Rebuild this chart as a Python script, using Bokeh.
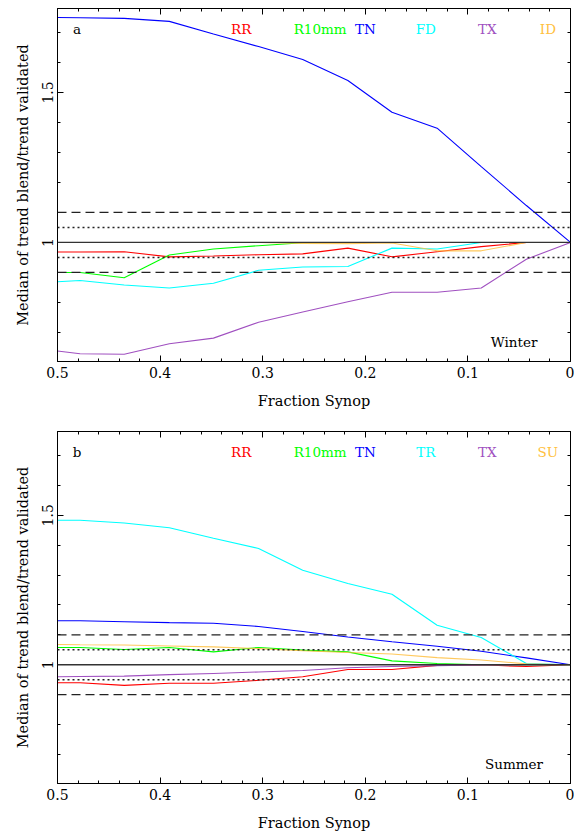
from bokeh.plotting import figure
from bokeh.layouts import column
from bokeh.models import (Range1d, FixedTicker, LinearAxis, Span, ColumnDataSource,
                          CustomLabelingPolicy)
from bokeh.core.properties import value
from bokeh.embed import file_html
from bokeh.resources import INLINE

# ---------------- data ----------------
frac_synop = [0.5, 0.478, 0.435, 0.391, 0.348, 0.304, 0.261, 0.217, 0.174, 0.130, 0.087, 0.043, 0.0]

winter_names = ["RR", "R10mm", "TN", "FD", "TX", "ID"]
winter_rr    = [0.968, 0.968, 0.969, 0.952, 0.955, 0.959, 0.962, 0.981, 0.952, 0.969, 0.986, 1.0, 1.0]
winter_r10mm = [0.900, 0.900, 0.882, 0.958, 0.978, 0.989, 0.999, 1.0, 1.0, 1.0, 1.0, 1.0, 1.0]
winter_tn    = [1.750, 1.749, 1.747, 1.737, 1.695, 1.653, 1.610, 1.540, 1.434, 1.381, 1.253, 1.123, 1.0]
winter_fd    = [0.869, 0.873, 0.858, 0.848, 0.864, 0.907, 0.918, 0.920, 0.981, 0.978, 1.0, 1.0, 1.0]
winter_tx    = [0.638, 0.629, 0.627, 0.662, 0.681, 0.734, 0.768, 0.802, 0.834, 0.834, 0.848, 0.944, 1.0]
winter_id    = [1.0, 1.0, 1.0, 1.0, 1.0, 1.0, 0.997, 0.996, 0.998, 0.972, 0.972, 1.0, 1.0]

summer_names = ["RR", "R10mm", "TN", "TR", "TX", "SU"]
summer_rr    = [0.940, 0.940, 0.931, 0.938, 0.938, 0.948, 0.960, 0.984, 0.984, 0.998, 1.0, 0.994, 1.0]
summer_r10mm = [1.058, 1.058, 1.051, 1.058, 1.043, 1.058, 1.049, 1.043, 1.013, 1.004, 1.0, 1.0, 1.0]
summer_tn    = [1.147, 1.147, 1.144, 1.141, 1.139, 1.128, 1.111, 1.093, 1.077, 1.062, 1.045, 1.023, 1.0]
summer_tr    = [1.483, 1.483, 1.474, 1.458, 1.423, 1.389, 1.316, 1.272, 1.236, 1.132, 1.091, 1.004, 1.0]
summer_tx    = [0.960, 0.961, 0.962, 0.967, 0.971, 0.976, 0.981, 0.990, 0.994, 0.997, 0.999, 1.0, 1.0]
summer_su    = [1.068, 1.067, 1.066, 1.063, 1.060, 1.054, 1.047, 1.041, 1.036, 1.024, 1.016, 1.003, 1.0]

series_colors = ["#ff0000", "#00ff00", "#0000ff", "#00ffff", "#a050c0", "#ffc040"]

x_ticks = [0.5, 0.4, 0.3, 0.2, 0.1, 0.0]
x_tick_labels = ["0.5", "0.4", "0.3", "0.2", "0.1", "0"]
x_minor = [0.48, 0.46, 0.44, 0.42, 0.38, 0.36, 0.34, 0.32, 0.28, 0.26, 0.24, 0.22,
           0.18, 0.16, 0.14, 0.12, 0.08, 0.06, 0.04, 0.02]
y_ticks = [0.5, 1.0, 1.5, 2.0]
y_tick_labels = ["0.5", "1", "1.5", "2"]
y_minor = [0.6, 0.7, 0.8, 0.9, 1.1, 1.2, 1.3, 1.4, 1.6, 1.7]

FONT = "DejaVu Serif"


def make_panel(letter, season, names, series, height, top, bottom):
    p = figure(width=574, height=height, output_backend="svg", toolbar_location=None,
               x_range=Range1d(0.5, 0.0), y_range=Range1d(0.603, 1.78),
               min_border_left=57, min_border_right=3,
               min_border_top=top, min_border_bottom=bottom,
               x_axis_label="Fraction Synop",
               y_axis_label="Median of trend blend/trend validated")
    p.grid.visible = False
    p.outline_line_color = "black"
    p.outline_line_width = 1
    p.background_fill_color = "white"
    p.border_fill_color = "white"

    xt = FixedTicker(ticks=x_ticks, minor_ticks=x_minor)
    yt = FixedTicker(ticks=y_ticks, minor_ticks=y_minor)

    for ax, tk in ((p.xaxis[0], xt), (p.yaxis[0], yt)):
        ax.ticker = tk
        ax.major_tick_in = 6
        ax.major_tick_out = 0
        ax.minor_tick_in = 3
        ax.minor_tick_out = 0
        ax.axis_line_color = "black"
        ax.major_label_text_font = FONT
        ax.major_label_text_font_size = "14px"
        ax.major_label_text_color = "black"
        ax.axis_label_text_font = FONT
        ax.axis_label_text_font_size = "14.5px"
        ax.axis_label_text_font_style = "normal"
        ax.axis_label_text_color = "black"
    p.xaxis[0].major_label_overrides = dict(zip(x_ticks, x_tick_labels))
    p.yaxis[0].major_label_overrides = dict(zip(y_ticks, y_tick_labels))
    p.xaxis[0].major_label_standoff = 5
    p.xaxis[0].axis_label_standoff = 12
    p.yaxis[0].major_label_orientation = "vertical"
    p.yaxis[0].major_label_standoff = 4
    p.yaxis[0].axis_label_standoff = 9

    # mirrored tick marks on top and right (no labels drawn there)
    no_labels = CustomLabelingPolicy(code="return new indices.constructor(indices.size, 0)")
    for loc, tk in (("above", xt), ("right", yt)):
        ax = LinearAxis(ticker=tk, major_tick_in=6, major_tick_out=0,
                        minor_tick_in=3, minor_tick_out=0,
                        major_label_text_font_size="1px", major_label_standoff=0,
                        major_label_policy=no_labels,
                        axis_line_color="black")
        p.add_layout(ax, loc)

    # reference lines
    for yv, dash, w in ((1.1, "9 5", 1.3), (0.9, "9 5", 1.3), (1.05, "2 3", 1.4), (0.95, "2 3", 1.4)):
        p.add_layout(Span(location=yv, dimension="width", line_color="#222222",
                          line_width=w, line_dash=dash))
    p.add_layout(Span(location=1.0, dimension="width", line_color="#333333", line_width=1.3))

    for name, ys, col in zip(names, series, series_colors):
        alpha = 0.85 if col == "#ffc040" else 1.0
        p.line(frac_synop, ys, line_color=col, line_width=1.1, line_alpha=alpha)

    # series labels across the top
    lab_x = [0.321, 0.244, 0.200, 0.141, 0.081, 0.022]
    src = ColumnDataSource(dict(x=lab_x, y=[1.713] * 6, t=names, c=series_colors))
    p.text(x="x", y="y", text="t", text_color="c", source=src,
           text_font=value(FONT), text_font_size="13.5px",
           text_align="center", text_baseline="middle")
    p.text(x=[0.481], y=[1.713], text=[letter], text_color="black",
           text_font=value(FONT), text_font_size="13.5px",
           text_align="center", text_baseline="middle")
    p.text(x=[0.055], y=[0.667], text=[season], text_color="black",
           text_font=value(FONT), text_font_size="13.5px",
           text_align="center", text_baseline="middle")
    return p


p1 = make_panel("a", "Winter", winter_names,
                [winter_rr, winter_r10mm, winter_tn, winter_fd, winter_tx, winter_id],
                417, 8, 56)
p2 = make_panel("b", "Summer", summer_names,
                [summer_rr, summer_r10mm, summer_tn, summer_tr, summer_tx, summer_su],
                417, 14, 51)

layout = column(p1, p2, spacing=0)
open("out.html", "w").write(file_html(layout, INLINE))
